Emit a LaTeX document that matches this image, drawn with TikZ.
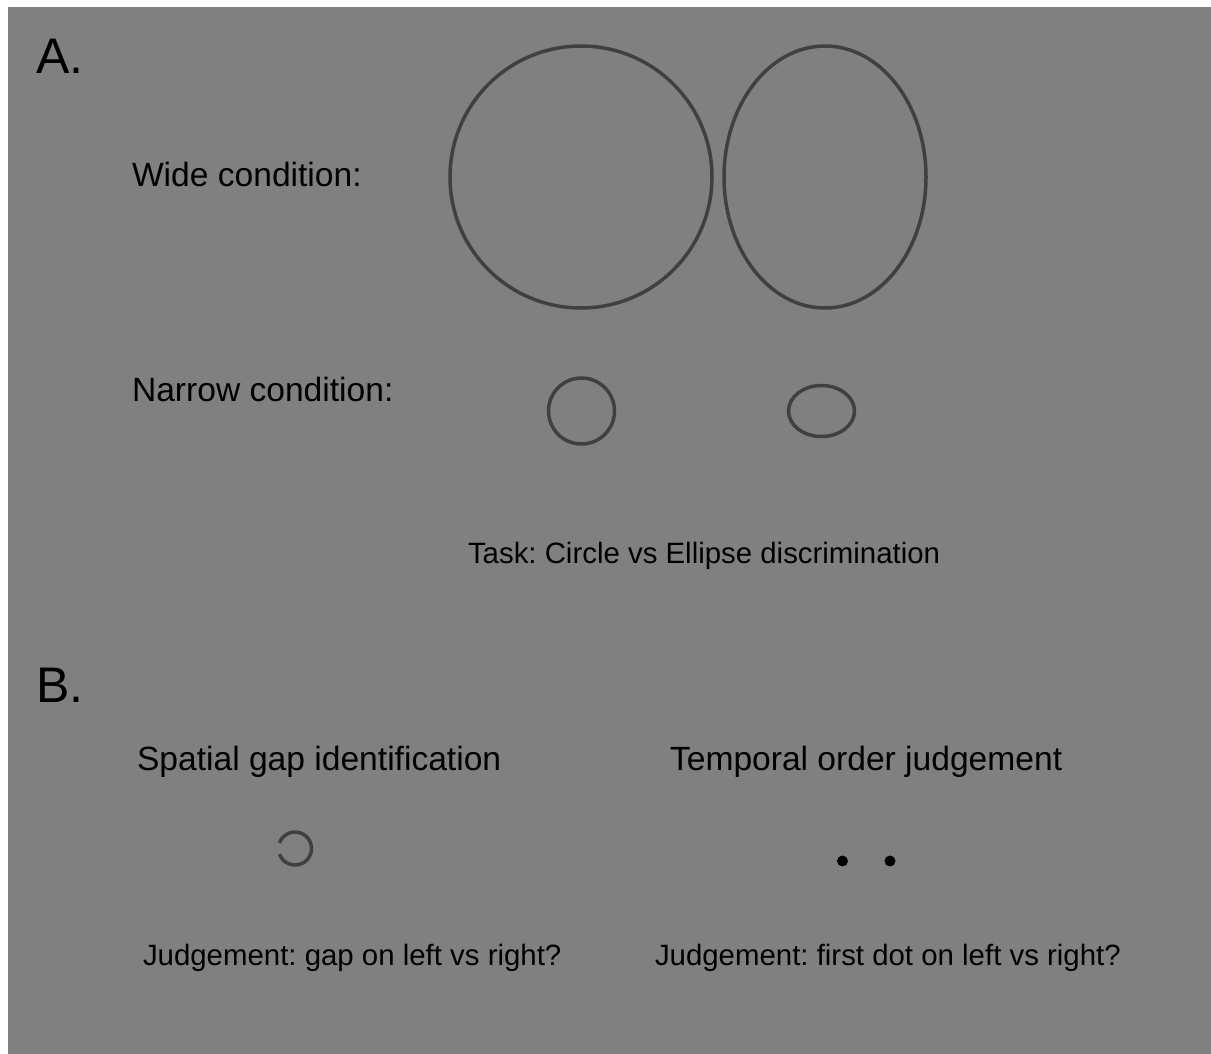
\documentclass[tikz,border=0pt]{standalone}
\usepackage{fontspec}
\setmainfont{Liberation Sans}
\frenchspacing
\definecolor{bg}{HTML}{808080}
\definecolor{strokec}{HTML}{404040}
\begin{document}
\begin{tikzpicture}[x=1pt,y=-1pt,
  lbl/.style={anchor=base west,inner sep=0pt,outer sep=0pt,text=black},
  big/.style={lbl,font=\fontsize{50}{60}\selectfont},
  mid/.style={lbl,font=\fontsize{33.6}{40}\selectfont},
  small/.style={lbl,font=\fontsize{29.4}{35}\selectfont},
  outl/.style={draw=strokec,line width=3.5pt}]
\useasboundingbox (0,0) rectangle (1211,1053);
\fill[white] (0,0) rectangle (1211,1053);
\fill[bg] (8,7) rectangle (1212,1054);
% Panel A
\node[big] (A) at (36,73) {A.};
\node[mid] (wide) at (132,186) {Wide condition:};
\node[mid] (narrow) at (132,401) {Narrow condition:};
\node[small] (task) at (468,563) {Task: Circle vs Ellipse discrimination};
\draw[outl] (581,177) circle [x radius=131,y radius=131];
\draw[outl] (825,177) ellipse [x radius=101,y radius=131];
\draw[outl] (581.5,411) circle [radius=33];
\draw[outl] (821.5,411) ellipse [x radius=33,y radius=25.5];
% Panel B
\node[big] (B) at (36,702) {B.};
\node[mid] (spatial) at (137,770) {Spatial gap identification};
\node[mid] (temporal) at (670,770) {Temporal order judgement};
\node[small] (j1) at (143,965) {Judgement: gap on left vs right?};
\node[small] (j2) at (655,965) {Judgement: first dot on left vs right?};
\draw[outl] (295,848.5) ++(200:16.5) arc[start angle=200,end angle=520,radius=16.5];
\fill[black] (842.5,861) circle [radius=5.5];
\fill[black] (890,861) circle [radius=5.5];
\end{tikzpicture}
\end{document}
